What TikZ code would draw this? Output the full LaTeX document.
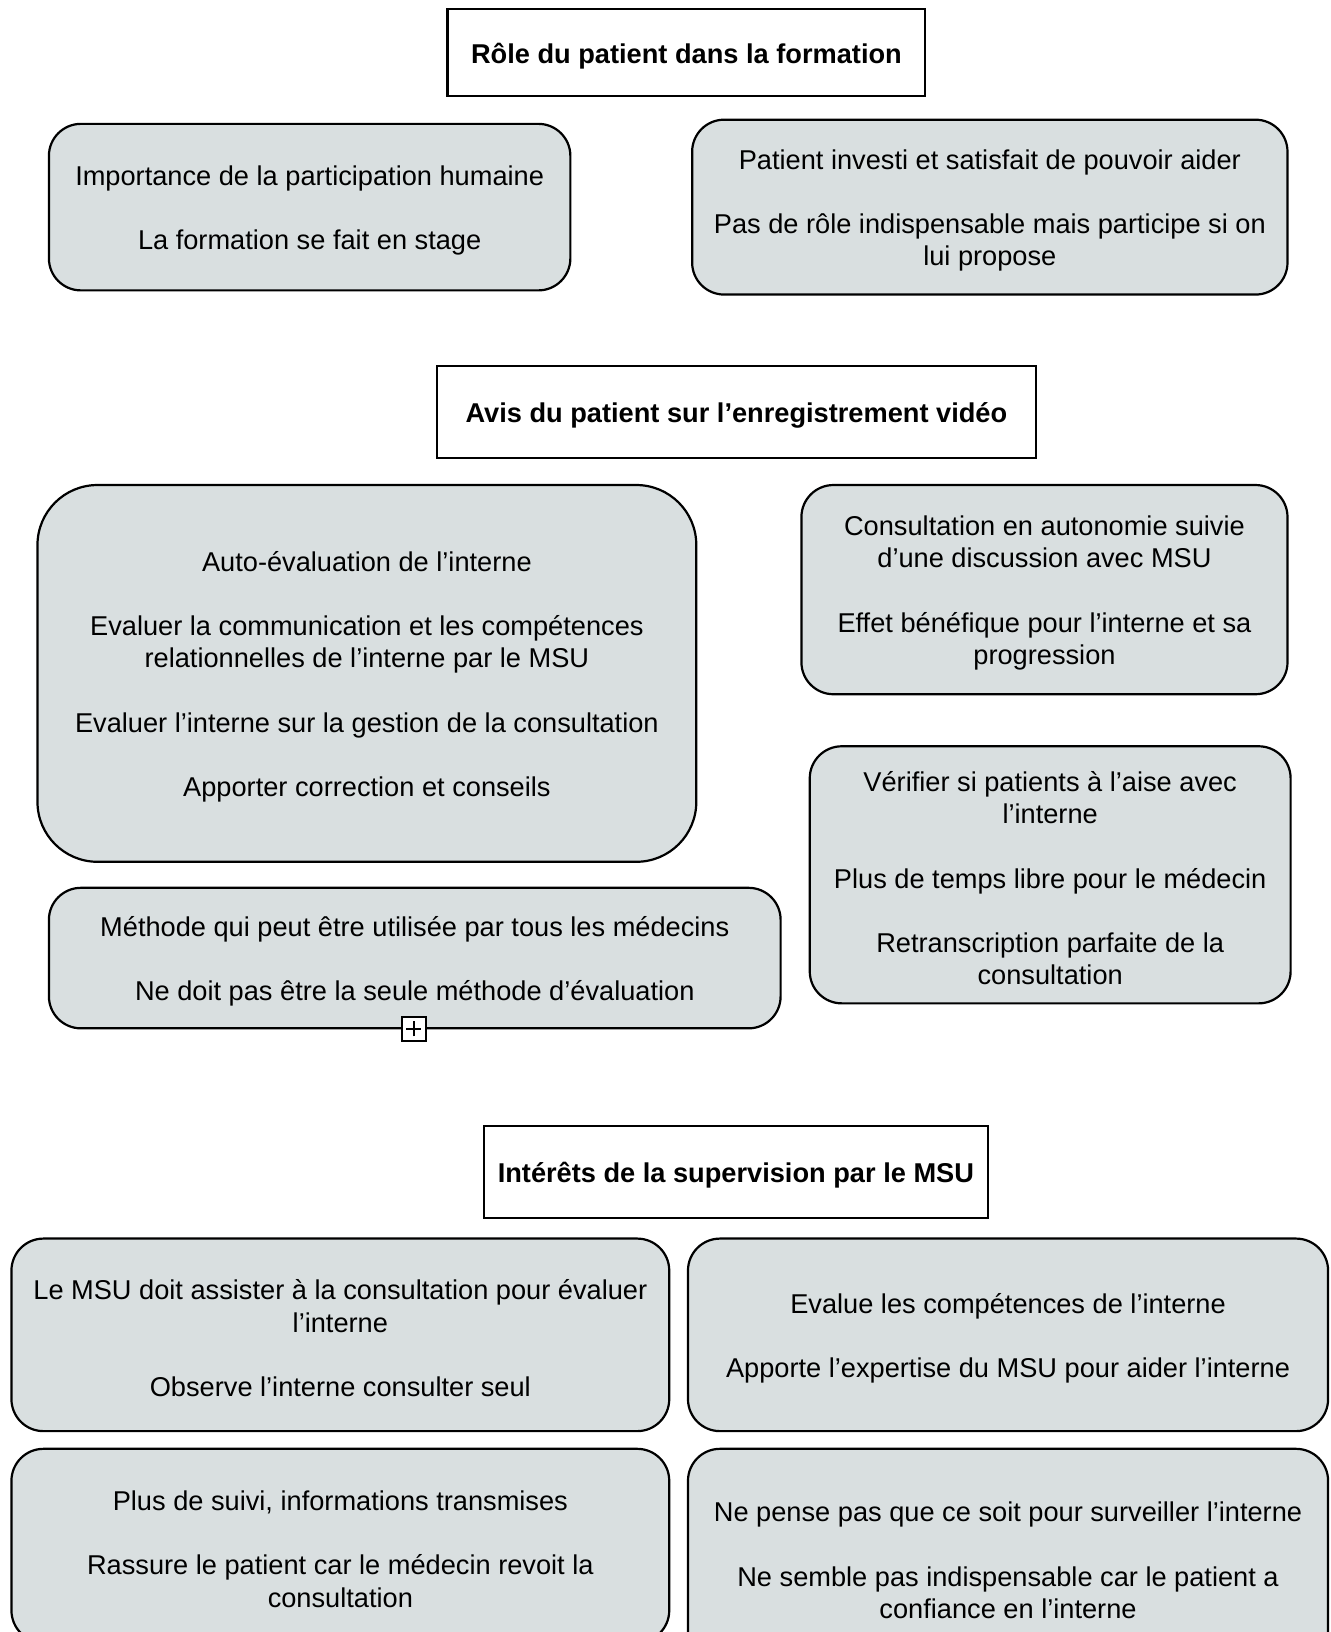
\documentclass[tikz,border=0pt]{standalone}
\usepackage{fontspec}
\setmainfont{Liberation Sans}
\newdimen\px \px=0.52035pt
\definecolor{boxfill}{RGB}{217,223,224}
\begin{document}
\begin{tikzpicture}[x=0.52035pt,y=-0.52035pt,
  every node/.style={font=\fontsize{13.6}{16.1}\selectfont, align=center, inner sep=0pt},
  titlebox/.style={draw=black, line width=1.1pt, fill=white},
  titletext/.style={font=\fontsize{13.6}{16.1}\selectfont\bfseries},
  infobox/.style={draw=black, line width=1.1pt, fill=boxfill, rounded corners=16pt},
  txt/.style={yshift=-1.7pt},
]
\clip (0,0) rectangle (1278,1568);
\useasboundingbox (0,0) rectangle (1278,1568);
\fill[white] (0,0) rectangle (1278,1568);

\node[titlebox, minimum width=459\px, minimum height=83\px] (t1) at (659.5,50.5) {};
\node[titletext, txt] (t1t) at (t1.center) {Rôle du patient dans la formation};
\node[infobox, minimum width=501\px, minimum height=160\px] (a) at (297.5,199) {};
\node[txt] (at) at (a.center) {Importance de la participation humaine\\[16.1pt]La formation se fait en stage};
\node[infobox, minimum width=572\px, minimum height=168\px] (b) at (951,199) {};
\node[txt] (bt) at (b.center) {Patient investi et satisfait de pouvoir aider\\[16.1pt]Pas de rôle indispensable mais participe si on\\lui propose};

\node[titlebox, minimum width=575\px, minimum height=88\px] (t2) at (707.5,396) {};
\node[titletext, txt] (t2t) at (t2.center) {Avis du patient sur l’enregistrement vidéo};
\node[infobox, rounded corners=30pt, minimum width=633\px, minimum height=362\px] (c) at (352.5,647) {};
\node[txt] (ct) at (c.center) {Auto-évaluation de l’interne\\[16.1pt]Evaluer la communication et les compétences\\relationnelles de l’interne par le MSU\\[16.1pt]Evaluer l’interne sur la gestion de la consultation\\[16.1pt]Apporter correction et conseils};
\node[infobox, minimum width=467\px, minimum height=201\px] (d) at (1003.5,566.5) {};
\node[txt] (dt) at (d.center) {Consultation en autonomie suivie\\d’une discussion avec MSU\\[16.1pt]Effet bénéfique pour l’interne et sa\\progression};
\node[infobox, minimum width=462\px, minimum height=247\px] (e) at (1009,840.5) {};
\node[txt] (et) at (e.center) {Vérifier si patients à l’aise avec\\l’interne\\[16.1pt]Plus de temps libre pour le médecin\\[16.1pt]Retranscription parfaite de la\\consultation};
\node[infobox, minimum width=703\px, minimum height=135\px] (f) at (398.5,920.5) {};
\node[txt] (ft) at (f.center) {Méthode qui peut être utilisée par tous les médecins\\[16.1pt]Ne doit pas être la seule méthode d’évaluation};
\node[draw=black, line width=1.1pt, fill=white, minimum size=23\px] (plus) at (397.5,988.5) {};
\draw[line width=1.1pt] ([xshift=-3.8pt]plus.center) -- ([xshift=3.8pt]plus.center);
\draw[line width=1.1pt] ([yshift=-3.8pt]plus.center) -- ([yshift=3.8pt]plus.center);

\node[titlebox, minimum width=484\px, minimum height=88\px] (t3) at (707,1126) {};
\node[titletext, txt] (t3t) at (t3.center) {Intérêts de la supervision par le MSU};
\node[infobox, minimum width=632\px, minimum height=185\px] (g) at (327,1282.5) {};
\node[txt] (gt) at (g.center) {Le MSU doit assister à la consultation pour évaluer\\l’interne\\[16.1pt]Observe l’interne consulter seul};
\node[infobox, minimum width=615\px, minimum height=185\px] (h) at (968.5,1282.5) {};
\node[txt] (ht) at (h.center) {Evalue les compétences de l’interne\\[16.1pt]Apporte l’expertise du MSU pour aider l’interne};
\node[infobox, minimum width=632\px, minimum height=186\px] (i) at (327,1485) {};
\node[txt] (it) at (i.center) {Plus de suivi, informations transmises\\[16.1pt]Rassure le patient car le médecin revoit la\\consultation};
\node[infobox, minimum width=615\px, minimum height=208\px] (j) at (968.5,1496) {};
\node[txt] (jt) at (j.center) {Ne pense pas que ce soit pour surveiller l’interne\\[16.1pt]Ne semble pas indispensable car le patient a\\confiance en l’interne};
\end{tikzpicture}
\end{document}
